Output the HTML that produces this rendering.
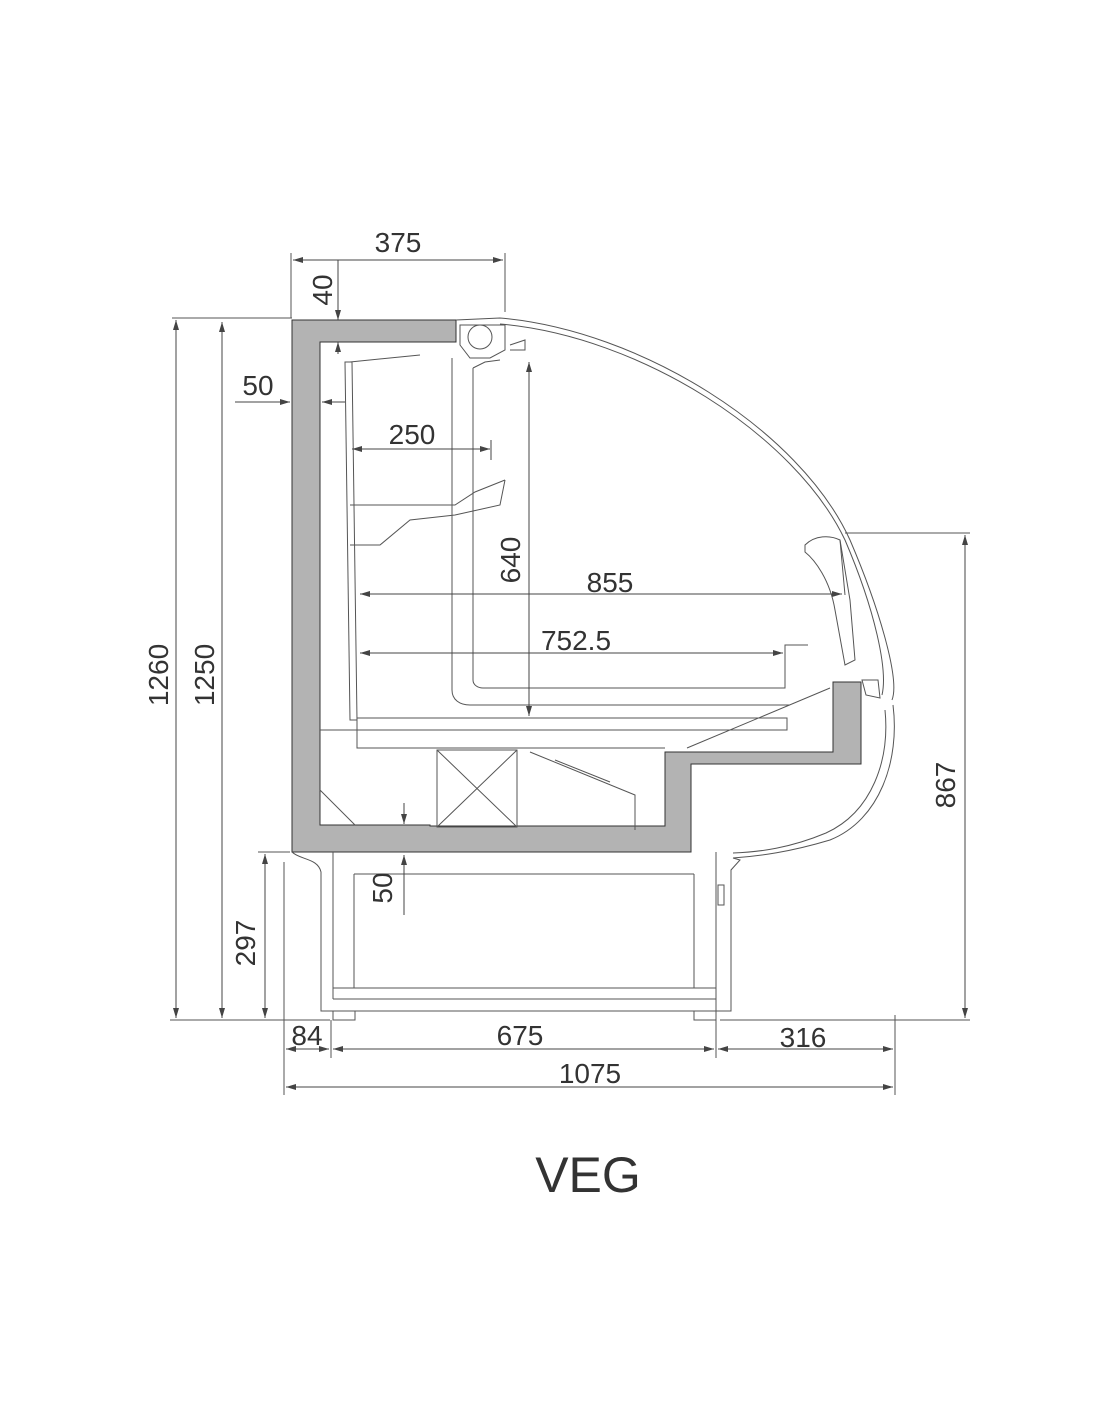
<!DOCTYPE html>
<html><head><style>
html,body{margin:0;padding:0;background:#fff;}
svg{display:block}
text{font-family:"Liberation Sans",sans-serif;fill:#333;}
</style></head><body>
<svg width="1100" height="1422" viewBox="0 0 1100 1422" xmlns="http://www.w3.org/2000/svg">
<defs>
<marker id="a" viewBox="0 0 10 6" refX="10" refY="3" markerWidth="10" markerHeight="6" orient="auto-start-reverse"><path d="M0,0 L10,3 L0,6 z" fill="#444"/></marker>
</defs>
<g stroke="#555" stroke-width="1" fill="none">
<!-- gray body -->
<path d="M292,320 L456,320 L456,342 L320,342 L320,825 L430,825 L430,826 L665,826 L665,752 L833,752 L833,682 L861,682 L861,764 L691,764 L691,852 L292,852 Z" fill="#b3b3b3" stroke="#333"/>
<!-- glass curve -->
<path d="M456,320 L500,318 C640,330 800,430 850,540 C880,610 900,680 892,700" />
<path d="M500,324 C640,336 795,435 845,540 C875,610 888,670 882,695"/>
<path d="M893,705 C900,760 880,820 830,840 C790,852 760,856 733,858"/>
<path d="M885,710 C890,760 872,812 826,833 C790,848 760,852 733,853"/>
<!-- rear panel -->
<path d="M345,362 L352,362 L357,720 L350,720 Z"/>
<path d="M350,362 L420,355"/>
<path d="M350,505 L455,505 L475,492 L505,480"/>
<path d="M350,545 L380,545 L410,520 L455,515 L500,505 L505,480"/>
<!-- columns -->
<path d="M452,358 L452,690 C452,700 460,705 470,705 L790,705"/>
<path d="M473,368 L473,680 C473,685 478,688 483,688 L785,688 L785,645 L808,645"/>
<path d="M473,368 L485,362 L500,360"/>
<!-- fan -->
<circle cx="480" cy="337" r="12"/>
<path d="M460,325 L505,325 L505,350 L490,358 L470,358 L460,345 Z"/>
<path d="M510,345 L525,340 L525,350 L510,350"/>
<!-- shelf base -->
<path d="M357,718 L787,718 L787,730 L357,730 Z"/>
<path d="M320,730 L357,730 L357,748 L665,748"/>
<path d="M357,748 L665,748"/>
<path d="M687,748 L830,688"/>
<!-- evaporator -->
<rect x="437" y="750" width="80" height="77"/>
<path d="M437,750 L517,827 M517,750 L437,827"/>
<path d="M530,752 L635,795 L635,830"/>
<path d="M555,760 L610,782"/>
<path d="M320,790 L355,825"/>
<!-- front bumper -->
<path d="M805,545 C815,535 830,535 840,540 L850,600 L855,660 L845,665 L835,610 C830,580 815,560 805,552 Z"/>
<path d="M840,540 L845,595"/>
<path d="M862,680 L878,680 L880,698 L866,695 Z"/>
<!-- base -->
<path d="M292,852 C300,860 318,858 321,872 L321,1011 L731,1011 L731,870 L740,860 L733,858"/>
<path d="M333,852 L333,999 M354,874 L354,988 M694,874 L694,988 M716,852 L716,1011"/>
<path d="M354,874 L694,874 M333,988 L716,988 M333,999 L716,999"/>
<rect x="333" y="1011" width="22" height="9"/>
<rect x="694" y="1011" width="22" height="9"/>
<rect x="718" y="885" width="6" height="20"/>
<!-- dimension/extension lines -->
<path d="M172,318 L292,318 M218,318 L292,318 M258,852 L290,852 M170,1020 L330,1020 M720,1020 L970,1020 M845,533 L970,533"/>
<path d="M284,862 L284,1095 M331,1020 L331,1058 M716,1020 L716,1058 M895,1015 L895,1095"/>
<path d="M291,253 L291,318 M505,253 L505,312"/>
</g>
<g stroke="#444" stroke-width="1" fill="none">
<line x1="176" y1="320" x2="176" y2="1018" marker-start="url(#a)" marker-end="url(#a)"/>
<line x1="222" y1="322" x2="222" y2="1018" marker-start="url(#a)" marker-end="url(#a)"/>
<line x1="265" y1="854" x2="265" y2="1018" marker-start="url(#a)" marker-end="url(#a)"/>
<line x1="965" y1="535" x2="965" y2="1018" marker-start="url(#a)" marker-end="url(#a)"/>
<line x1="286" y1="1049" x2="329" y2="1049" marker-start="url(#a)" marker-end="url(#a)"/>
<line x1="333" y1="1049" x2="714" y2="1049" marker-start="url(#a)" marker-end="url(#a)"/>
<line x1="718" y1="1049" x2="893" y2="1049" marker-start="url(#a)" marker-end="url(#a)"/>
<line x1="286" y1="1087" x2="893" y2="1087" marker-start="url(#a)" marker-end="url(#a)"/>
<line x1="293" y1="260" x2="503" y2="260" marker-start="url(#a)" marker-end="url(#a)"/>
<line x1="338" y1="260" x2="338" y2="320" marker-end="url(#a)"/>
<line x1="338" y1="354" x2="338" y2="342" marker-end="url(#a)"/>
<line x1="235" y1="402" x2="290" y2="402" marker-end="url(#a)"/>
<line x1="345" y1="402" x2="322" y2="402" marker-end="url(#a)"/>
<line x1="352" y1="449" x2="490" y2="449" marker-start="url(#a)" marker-end="url(#a)"/>
<line x1="491" y1="440" x2="491" y2="460"/>
<line x1="529" y1="362" x2="529" y2="716" marker-start="url(#a)" marker-end="url(#a)"/>
<line x1="360" y1="594" x2="842" y2="594" marker-start="url(#a)" marker-end="url(#a)"/>
<line x1="360" y1="653" x2="783" y2="653" marker-start="url(#a)" marker-end="url(#a)"/>
<line x1="404" y1="803" x2="404" y2="824" marker-end="url(#a)"/>
<line x1="404" y1="915" x2="404" y2="855" marker-end="url(#a)"/>
</g>
<g font-size="28">
<text x="398" y="252" text-anchor="middle">375</text>
<text x="258" y="395" text-anchor="middle">50</text>
<text x="412" y="444" text-anchor="middle">250</text>
<text x="610" y="592" text-anchor="middle">855</text>
<text x="576" y="650" text-anchor="middle">752.5</text>
<text x="307" y="1045" text-anchor="middle">84</text>
<text x="520" y="1045" text-anchor="middle">675</text>
<text x="803" y="1047" text-anchor="middle">316</text>
<text x="590" y="1083" text-anchor="middle">1075</text>
<text transform="translate(332,290) rotate(-90)" text-anchor="middle">40</text>
<text transform="translate(520,560) rotate(-90)" text-anchor="middle">640</text>
<text transform="translate(168,675) rotate(-90)" text-anchor="middle">1260</text>
<text transform="translate(214,675) rotate(-90)" text-anchor="middle">1250</text>
<text transform="translate(255,943) rotate(-90)" text-anchor="middle">297</text>
<text transform="translate(392,888) rotate(-90)" text-anchor="middle">50</text>
<text transform="translate(955,785) rotate(-90)" text-anchor="middle">867</text>
</g>
<text x="588" y="1192" text-anchor="middle" font-size="50">VEG</text>
</svg>
</body></html>
